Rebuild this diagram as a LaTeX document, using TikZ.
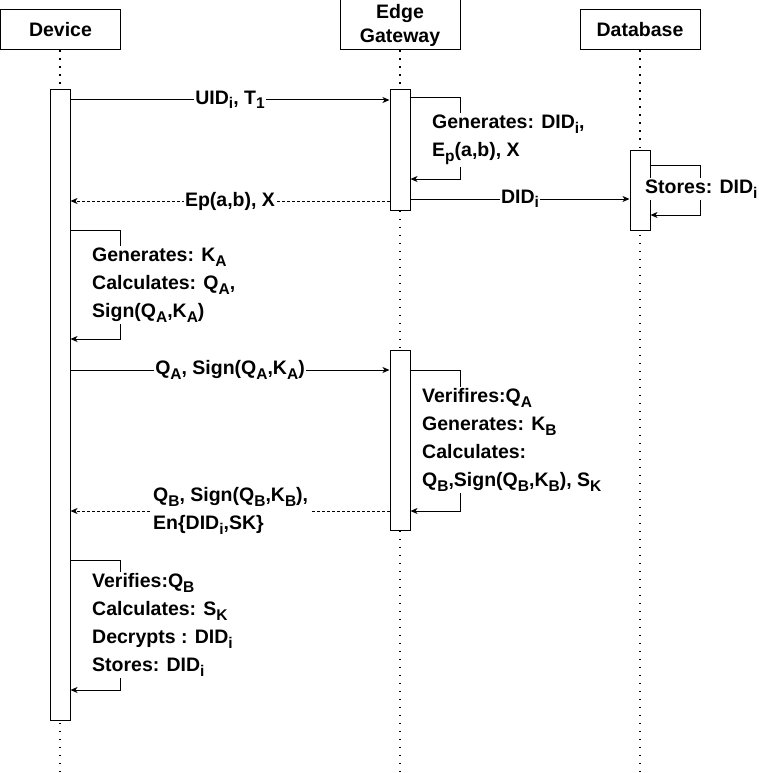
\documentclass[tikz,border=0pt]{standalone}
\usepackage{fontspec}
\setmainfont{Liberation Sans}
\usetikzlibrary{arrows.meta}
\newcommand{\sbs}[1]{\raisebox{-4.5pt}{\fontsize{15.5}{15.5}\selectfont #1}}
\begin{document}
\begin{tikzpicture}[x=1pt,y=-1pt,
  every node/.style={font=\fontsize{19.5}{28}\selectfont\bfseries, inner sep=0pt},
  actor/.style={draw=black, line width=1pt, fill=white, minimum width=120pt, align=center},
  bar/.style={draw=black, line width=1pt, fill=white, minimum width=20pt},
  life/.style={line width=1.2pt, dash pattern=on 1.2pt off 6.8pt},
  msg/.style={line width=1pt, -{Stealth[length=7pt,width=6pt,inset=2pt]}},
  ret/.style={msg, dash pattern=on 3pt off 2pt},
  lbl/.style={fill=white, inner xsep=1pt, inner ysep=1pt},
  note/.style={anchor=west, align=left, fill=white, inner xsep=1pt, inner ysep=2pt}]
\useasboundingbox (0,0) rectangle (758,773);
% actors
\node[actor, minimum height=40pt] (dev) at (60.5,30) {Device};
\node[actor, minimum height=50pt, font=\fontsize{19.5}{24}\selectfont\bfseries] (gw) at (400,25) {Edge\\Gateway};
\node[actor, minimum height=40pt] (db) at (640,30) {Database};
% lifelines
\draw[life] (dev.south -| 60,0) -- (60,773);
\draw[life] (gw.south) -- (400,773);
\draw[life] (db.south) -- (640,773);
% activation bars
\node[bar, minimum height=630pt] (devbar) at (60,405) {};
\node[bar, minimum height=120pt] (gw1) at (400,150) {};
\node[bar, minimum height=180pt] (gw2) at (400,440) {};
\node[bar, minimum height=80pt] (dbbar) at (640,190) {};
% y levels
\coordinate (y1) at (0,100);
\coordinate (y2) at (0,201);
\coordinate (y3) at (0,370);
\coordinate (y4) at (0,511);
% message 1
\draw[msg] (devbar.east |- y1) -- node[lbl] (m1) {UID\sbs{i}, T\sbs{1}} (gw1.west |- y1);
% gateway self loop 1
\draw[msg] (gw1.east |- 0,98) -| (460,179) -- (gw1.east |- 0,179);
\node[note] (n1) at (431,140) {Generates: DID\sbs{i},\\E\sbs{p}(a,b), X};
% return 1
\draw[ret] (gw1.west |- y2) -- node[lbl] (m2) {Ep(a,b), X} (devbar.east |- y2);
% DID to database
\draw[msg] (gw1.east |- 0,199) -- node[lbl] (m3) {DID\sbs{i}} (dbbar.west |- 0,199);
% database self loop
\draw[msg] (dbbar.east |- 0,165) -| (700,215) -- (dbbar.east |- 0,215);
\node[note] (n2) at (644,189) {Stores: DID\sbs{i}};
% device self loop 1
\draw[msg] (devbar.east |- 0,230) -| (120,339) -- (devbar.east |- 0,339);
\node[note] (n3) at (91,285) {Generates: K\sbs{A}\\Calculates: Q\sbs{A},\\Sign(Q\sbs{A},K\sbs{A})};
% message QA
\draw[msg] (devbar.east |- y3) -- node[lbl] (m4) {Q\sbs{A}, Sign(Q\sbs{A},K\sbs{A})} (gw2.west |- y3);
% gateway self loop 2
\draw[msg] (gw2.east |- 0,370) -| (460,511) -- (gw2.east |- 0,511);
\node[note] (n4) at (421,440) {Verifires:Q\sbs{A}\\Generates: K\sbs{B}\\Calculates:\\Q\sbs{B},Sign(Q\sbs{B},K\sbs{B}), S\sbs{K}};
% return 2
\draw[ret] (gw2.west |- y4) -- (devbar.east |- y4);
\node[note, inner xsep=2pt] (m5) at (151,511) {Q\sbs{B}, Sign(Q\sbs{B},K\sbs{B}),\\En\{DID\sbs{i},SK\}};
% device self loop 2
\draw[msg] (devbar.east |- 0,560) -| (120,690) -- (devbar.east |- 0,690);
\node[note] (n5) at (91,625) {Verifies:Q\sbs{B}\\Calculates: S\sbs{K}\\Decrypts : DID\sbs{i}\\Stores: DID\sbs{i}};
\end{tikzpicture}
\end{document}
